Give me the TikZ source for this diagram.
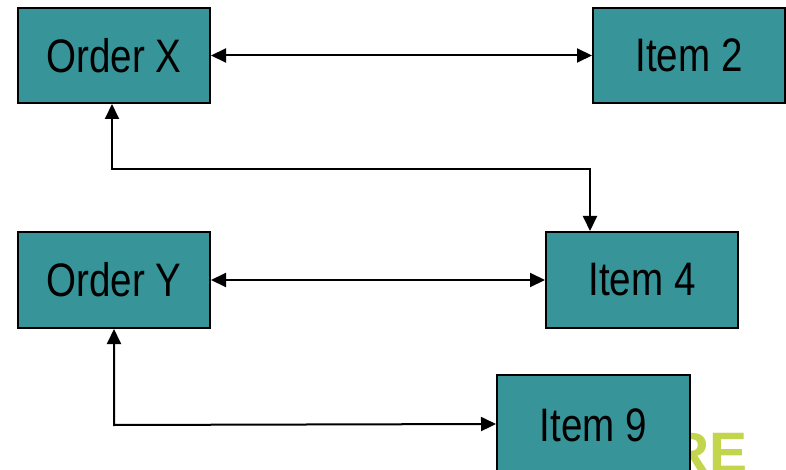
\documentclass[tikz,border=0pt]{standalone}
\usepackage{fontspec}
\setmainfont{Liberation Sans}
\newfontfamily\narrowfont[FakeStretch=0.82]{Liberation Sans}
\usetikzlibrary{arrows.meta}
\definecolor{boxteal}{HTML}{379499}
\definecolor{logogreen}{HTML}{C2D54C}
\tikzset{
  box/.style={draw=black, line width=2pt, fill=boxteal, minimum width=192pt,
    minimum height=95pt, inner sep=0pt, font=\narrowfont\fontsize{47}{50}\selectfont},
  link/.style={line width=2pt, {Triangle[length=15pt,width=14pt]}-{Triangle[length=15pt,width=14pt]}}
}
\begin{document}
\begin{tikzpicture}[x=1pt,y=-1pt]
\useasboundingbox (0,0) rectangle (786,470);
\clip (0,0) rectangle (786,470);
\fill[white] (0,0) rectangle (786,470);
\node[anchor=base east, text=logogreen, font=\bfseries\fontsize{57}{60}\selectfont, inner sep=0pt] (logo) at (748,472) {RE};
\node[box] (ox) at (114,55.5) {Order X};
\node[box] (i2) at (689,55.5) {Item 2};
\node[box, minimum height=96pt] (oy) at (114,280) {Order Y};
\node[box, minimum height=96pt] (i4) at (642,280) {Item 4};
\node[box, minimum width=193pt, minimum height=100pt] (i9) at (593.5,425) {Item 9};
\draw[link] (ox.east) -- (i2.west);
\draw[link] (oy.east) -- (i4.west);
\draw[link] ([xshift=-2pt]ox.south) -- ++(0,65) -| ([xshift=-52pt]i4.north);
\draw[link] (oy.south) -- ++(0,96) -- (i9.west |- 0,424);
\end{tikzpicture}
\end{document}
